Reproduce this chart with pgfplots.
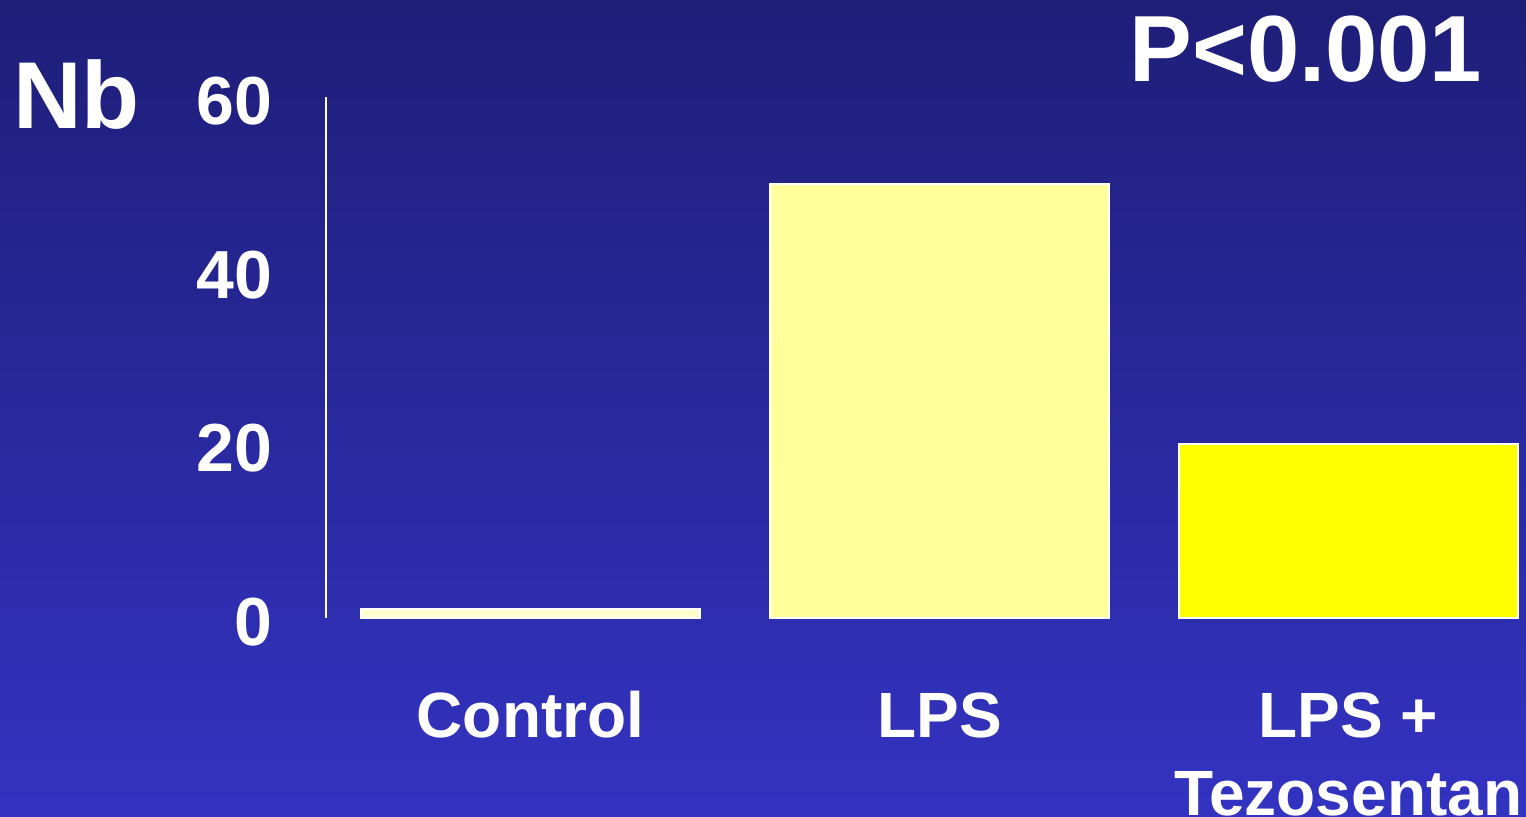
\documentclass[border=0pt]{standalone}
\usepackage{pgfplots}
\pgfplotsset{compat=1.18}
\usepackage{fontspec}
\setmainfont{Liberation Sans}
\definecolor{bgtop}{RGB}{30,30,120}
\definecolor{bgbot}{RGB}{51,51,194}
\definecolor{barctl}{RGB}{255,255,204}
\definecolor{barlps}{RGB}{255,255,155}
\definecolor{bartez}{RGB}{255,255,0}
\begin{document}
\begin{tikzpicture}
\path[use as bounding box] (0,0) rectangle (763pt,408.5pt);
\clip (0,0) rectangle (763pt,408.5pt);
\shade[top color=bgtop,bottom color=bgbot] (0,0) rectangle (763pt,408.5pt);
\begin{axis}[
  at={(163pt,99.5pt)}, anchor=south west,
  scale only axis, width=600pt, height=260.5pt,
  xmin=-0.5, xmax=2.434, ymin=0, ymax=60,
  axis x line*=bottom, axis y line*=left,
  x axis line style={draw=none},
  y axis line style={draw=white, line width=0.8pt, -},
  xtick={0,1,2},
  xticklabels={Control, LPS, {\begin{tabular}[t]{@{}c@{}}LPS +\\Tezosentan\end{tabular}}},
  ytick={0,20,40,60},
  major tick length=0pt,
  tick style={draw=none},
  /pgf/number format/assume math mode=true,
  ticklabel style={text=white},
  yticklabel style={font=\fontsize{34}{40}\selectfont\bfseries,
    anchor=east, inner sep=0pt, xshift=-26.5pt, yshift=-2pt},
  xticklabel style={font=\fontsize{32}{39}\selectfont\bfseries,
    anchor=base, inner sep=0pt, yshift=-60pt},
  clip=false,
]
\addplot[ybar, bar width=0.83, bar shift=0pt, fill=barctl, draw=white, line width=1pt]
  coordinates {(0,1)};
\addplot[ybar, bar width=0.83, bar shift=0pt, fill=barlps, draw=white, line width=1pt]
  coordinates {(1,50)};
\addplot[ybar, bar width=0.83, bar shift=0pt, fill=bartez, draw=white, line width=1pt]
  coordinates {(2,20)};
\end{axis}
\node[anchor=base west, inner sep=0pt, text=white, font=\fontsize{47.5}{52}\selectfont\bfseries]
  at (6.5pt,344pt) {Nb};
\node[anchor=base west, inner sep=0pt, text=white, font=\fontsize{47}{52}\selectfont\bfseries]
  at (564.5pt,367.5pt) {P<0.001};
\end{tikzpicture}
\end{document}
